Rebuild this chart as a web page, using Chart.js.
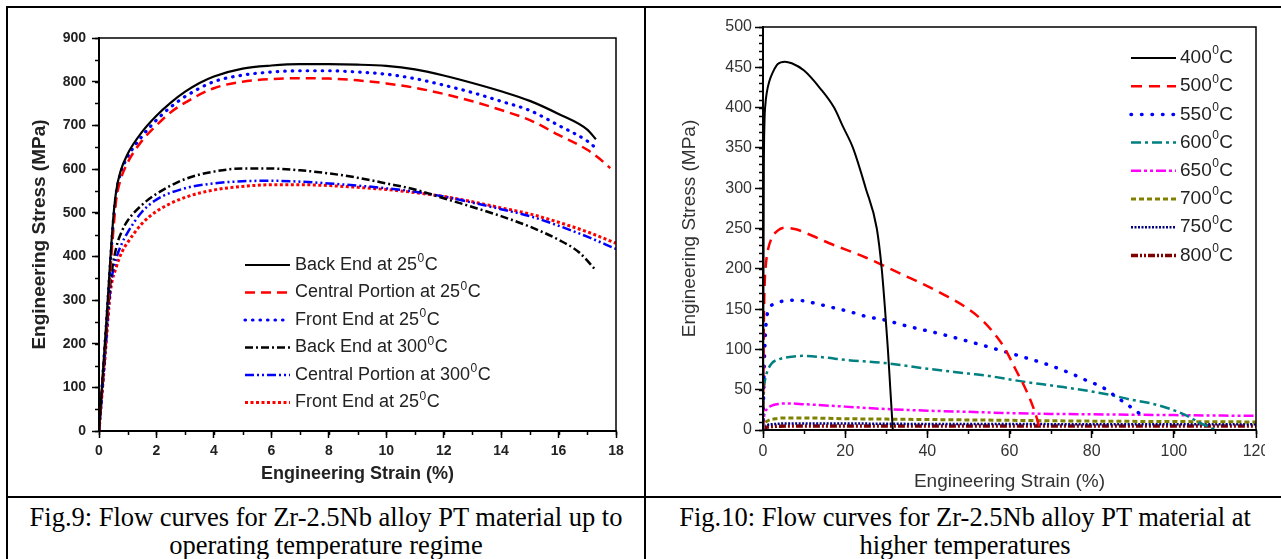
<!DOCTYPE html>
<html>
<head>
<meta charset="utf-8">
<script src="https://cdn.jsdelivr.net/npm/chart.js@4.4.0/dist/chart.umd.min.js"></script>
<style>
  html, body { margin: 0; padding: 0; background: #fff; }
  body { width: 1281px; height: 559px; overflow: hidden; position: relative; }
  canvas { position: absolute; top: 0; }
  #fig9 { left: 0; }
  #fig10 { left: 646px; }
  .rule { position: absolute; background: #000; }
  .cap { position: absolute; top: 503px; font-family: "Liberation Serif", "Times New Roman", serif;
         font-size: 26.5px; line-height: 28px; text-align: center; color: #000; white-space: nowrap; }
</style>
</head>
<body>
<canvas id="fig9" width="645" height="497"></canvas>
<canvas id="fig10" width="619" height="497"></canvas>
<div class="rule" style="left:6px;top:6px;width:1281px;height:2px"></div>
<div class="rule" style="left:6px;top:6px;width:2px;height:559px"></div>
<div class="rule" style="left:644px;top:6px;width:2px;height:559px"></div>
<div class="rule" style="left:6px;top:496px;width:1281px;height:2px"></div>
<div class="cap" style="left:8px;width:636px">Fig.9: Flow curves for Zr-2.5Nb alloy PT material up to<br>operating temperature regime</div>
<div class="cap" style="left:646px;width:638px">Fig.10: Flow curves for Zr-2.5Nb alloy PT material at<br>higher temperatures</div>

<script>
// ---- Fig.9 data (strain %, stress MPa) ----
const backEnd25X  = [0, 0.25, 0.5, 0.6, 0.75, 1, 1.5, 2, 2.5, 3, 3.5, 4, 5, 6, 7, 8, 9, 10, 11, 12, 13, 14, 15, 16, 17, 17.3];
const backEnd25Y  = [0, 245, 490, 550, 595, 635, 685, 722, 752, 777, 797, 812, 830, 837, 840, 840, 839, 836, 828, 814, 797, 778, 756, 726, 690, 668];
const central25X  = [0, 0.25, 0.5, 0.6, 0.75, 1, 1.5, 2, 2.5, 3, 4, 5, 6, 7, 8, 9, 10, 11, 12, 13, 14, 15, 16, 17, 17.4, 17.8];
const central25Y  = [0, 230, 460, 530, 575, 615, 665, 700, 730, 752, 785, 800, 806, 808, 807, 803, 796, 786, 772, 755, 735, 712, 678, 644, 625, 602];
const front25X    = [0, 0.25, 0.5, 0.6, 0.75, 1, 1.5, 2, 2.5, 3, 4, 5, 6, 7, 8, 9, 10, 11, 12, 13, 14, 15, 16, 17, 17.35];
const front25Y    = [0, 240, 480, 545, 590, 628, 675, 712, 742, 766, 800, 815, 822, 825, 825, 822, 817, 807, 792, 775, 755, 734, 700, 664, 645];
const backEnd300X = [0, 0.2, 0.4, 0.6, 0.8, 1, 1.5, 2, 3, 4, 5, 6, 7, 8, 9, 10, 11, 12, 13, 14, 15, 16, 16.7, 17.3];
const backEnd300Y = [0, 170, 340, 420, 458, 482, 518, 543, 577, 594, 601, 601, 597, 590, 580, 567, 553, 533, 513, 492, 468, 438, 410, 368];
const central300X = [0, 0.2, 0.4, 0.6, 0.8, 1, 1.5, 2, 3, 4, 5, 6, 7, 8, 9, 10, 11, 12, 13, 14, 15, 16, 17, 18];
const central300Y = [0, 165, 330, 395, 430, 455, 502, 530, 556, 567, 572, 573, 571, 567, 562, 556, 548, 537, 523, 508, 492, 470, 445, 417];
const frontB25X   = [0, 0.2, 0.4, 0.6, 0.8, 1, 1.5, 2, 3, 4, 5, 6, 7, 8, 9, 10, 11, 12, 13, 14, 15, 16, 17, 18];
const frontB25Y   = [0, 160, 320, 375, 410, 432, 475, 503, 535, 552, 560, 564, 564, 562, 558, 553, 546, 537, 525, 511, 497, 478, 456, 430];

// ---- Fig.10 data ----
const t400X = [0, 0.2, 0.35, 0.6, 0.9, 1.5, 2.5, 3.6, 5.3, 7, 10, 13.9, 17.3, 19.5, 21.9, 25, 27.7, 28.9, 29.7, 30.4, 31, 31.6];
const t400Y = [0, 320, 380, 405, 418, 432, 445, 454, 457, 455, 446, 424, 400, 376, 350, 300, 250, 200, 150, 100, 50, 0];
const t500X = [0, 0.2, 0.4, 0.7, 1, 2, 3.5, 5.3, 8, 12, 16, 20, 25, 31, 36, 39, 44, 50, 54, 57, 59, 61.5, 64, 66, 67.5];
const t500Y = [0, 130, 180, 205, 218, 237, 247, 251, 249, 241, 232, 224, 214, 200, 188, 181, 168, 150, 133, 115, 100, 75, 50, 25, 0];
const t550X = [0, 0.2, 0.5, 0.8, 1.5, 3, 5, 8.3, 12, 16, 21, 25, 30, 35, 42.6, 50, 59, 65, 69.4, 75, 79.4, 82.3, 86.3, 88.8, 91.5, 92.5];
const t550Y = [0, 60, 110, 135, 150, 157, 160, 161, 158, 153, 147, 141, 136, 129, 120, 110, 97, 88, 81, 70, 60, 54, 40, 31, 21, 17];
const t600X = [0, 0.2, 0.5, 1, 2, 4, 7, 9.7, 15, 20, 29.7, 40, 50, 55, 63.4, 72, 79.8, 85, 89.3, 94.5, 99.2, 102.6, 106, 109, 110];
const t600Y = [0, 45, 62, 72, 82, 88, 91, 92, 90, 87, 83, 76, 70, 67, 60, 54, 48, 43, 38, 33, 26, 19, 10, 2.5, 0];
const t650X = [0, 0.3, 1, 2, 4, 6, 10, 20, 30, 40, 50, 60, 70, 80, 90, 100, 110, 120];
const t650Y = [0, 18, 26, 30, 32.5, 33, 32, 29, 26, 24, 22.5, 21, 20, 19.5, 19, 18.5, 18, 17.5];
const t700X = [0, 0.3, 1, 3, 6, 10, 20, 30, 40, 60, 80, 100, 120];
const t700Y = [0, 7, 11, 14, 15, 15, 14, 13.5, 13, 12, 11, 10.5, 10];
const t750X = [0, 0.3, 1, 3, 6, 20, 40, 60, 80, 100, 120];
const t750Y = [0, 4, 6, 7.5, 8, 8, 7.5, 7.5, 7, 7, 7];
const t800X = [0, 0.3, 1, 3, 10, 30, 60, 90, 120];
const t800Y = [0, 2, 3.5, 4.5, 5, 5, 5, 5, 5];

const pts = (xs, ys) => xs.map((x, i) => ({ x, y: ys[i] }));

function line(label, xs, ys, color, width, dash, cap) {
  return {
    label, data: pts(xs, ys), borderColor: color, borderWidth: width,
    borderDash: dash, borderCapStyle: cap || "butt", pointRadius: 0,
    fill: false, tension: 0.4, cubicInterpolationMode: "monotone"
  };
}

// minor ticks, closed frame and in-plot legend
const framePlugin = {
  id: "frame",
  afterDraw(chart, args, o) {
    const { ctx, chartArea: a, scales } = chart;
    const sx = scales.x, sy = scales.y;
    ctx.save();
    ctx.strokeStyle = o.color;
    ctx.lineWidth = o.tickWidth;
    ctx.beginPath();
    for (let v = sx.min; v <= sx.max + 1e-9; v += o.xMinor) {
      const p = Math.round(sx.getPixelForValue(v)) + 0.5;
      ctx.moveTo(p, a.bottom); ctx.lineTo(p, a.bottom + o.minorLen);
    }
    for (let v = sy.min; v <= sy.max + 1e-9; v += o.yMinor) {
      const p = Math.round(sy.getPixelForValue(v)) + 0.5;
      ctx.moveTo(a.left, p); ctx.lineTo(a.left - o.minorLen, p);
    }
    ctx.stroke();
    ctx.lineWidth = o.frameWidth;
    ctx.strokeRect(a.left, a.top, a.right - a.left, a.bottom - a.top);
    ctx.restore();

    const lg = o.legend;
    chart.data.datasets.forEach((ds, i) => {
      const y = lg.y + i * lg.gap;
      ctx.save();
      ctx.strokeStyle = ds.borderColor;
      ctx.lineWidth = ds.borderWidth;
      ctx.setLineDash(ds.borderDash || []);
      ctx.lineCap = ds.borderCapStyle || "butt";
      ctx.beginPath(); ctx.moveTo(lg.x, y); ctx.lineTo(lg.x + lg.len, y); ctx.stroke();
      ctx.restore();

      ctx.save();
      ctx.fillStyle = lg.color;
      ctx.textBaseline = "middle";
      ctx.textAlign = "left";
      const parts = ds.label.split("\u2070");
      let tx = lg.x + lg.len + lg.textGap;
      ctx.font = lg.font;
      ctx.fillText(parts[0], tx, y);
      tx += ctx.measureText(parts[0]).width;
      if (parts.length > 1) {
        ctx.font = lg.supFont;
        ctx.fillText("0", tx + 0.5, y - lg.supRise);
        tx += ctx.measureText("0").width + 1;
        ctx.font = lg.font;
        ctx.fillText(parts[1], tx, y);
      }
      ctx.restore();
    });
  }
};

function axes(cfg) {
  return {
    x: {
      type: "linear", min: cfg.xMin, max: cfg.xMax,
      afterFit: s => { s.height = cfg.xHeight; s.paddingLeft = 0; s.paddingRight = 0; },
      ticks: { stepSize: cfg.xStep, color: cfg.textColor, padding: cfg.xTickPad, maxRotation: 0,
               font: { family: cfg.family, size: cfg.tickSize, weight: cfg.weight } },
      grid: { drawOnChartArea: false, drawTicks: true, tickLength: cfg.majorLen, tickWidth: 1.5, tickColor: "#000" },
      border: { display: true, color: "#000", width: cfg.axisWidth },
      title: { display: true, text: "Engineering Strain (%)", color: cfg.textColor,
               padding: { top: 0, bottom: cfg.xTitlePad },
               font: { family: cfg.family, size: cfg.xTitleSize, weight: cfg.weight } }
    },
    y: {
      type: "linear", min: cfg.yMin, max: cfg.yMax,
      afterFit: s => { s.width = cfg.yWidth; s.paddingTop = 0; s.paddingBottom = 0; },
      ticks: { stepSize: cfg.yStep, color: cfg.textColor, padding: cfg.yTickPad,
               font: { family: cfg.family, size: cfg.tickSize, weight: cfg.weight } },
      grid: { drawOnChartArea: false, drawTicks: true, tickLength: cfg.majorLen, tickWidth: 1.5, tickColor: "#000" },
      border: { display: true, color: "#000", width: cfg.axisWidth },
      title: { display: true, text: "Engineering Stress (MPa)", color: cfg.textColor,
               padding: { top: cfg.yTitlePad, bottom: 0 },
               font: { family: cfg.family, size: cfg.yTitleSize, weight: cfg.weight } }
    }
  };
}

const fig9Sets = [
  line("Back End at 25\u2070C", backEnd25X, backEnd25Y, "#000000", 2.2, []),
  line("Central Portion at 25\u2070C", central25X, central25Y, "#ff0000", 2.5, [10, 6]),
  line("Front End at 25\u2070C", front25X, front25Y, "#0000ff", 3.2, [0.5, 7], "round"),
  line("Back End at 300\u2070C", backEnd300X, backEnd300Y, "#000000", 2.5, [8, 3, 2, 3]),
  line("Central Portion at 300\u2070C", central300X, central300Y, "#0000ff", 2.5, [9, 3, 2, 3, 2, 3]),
  line("Front End at 25\u2070C", frontB25X, frontB25Y, "#ff0000", 3, [3, 2.5])
];

const fig10Sets = [
  line("400\u2070C", t400X, t400Y, "#000000", 2, []),
  line("500\u2070C", t500X, t500Y, "#ff0000", 2.5, [11, 7]),
  line("550\u2070C", t550X, t550Y, "#0000ff", 3.5, [0.5, 10], "round"),
  line("600\u2070C", t600X, t600Y, "#008080", 2.5, [10, 4, 3, 4]),
  line("650\u2070C", t650X, t650Y, "#ff00ff", 2.5, [10, 3, 3, 3, 3, 3]),
  line("700\u2070C", t700X, t700Y, "#808000", 3, [5, 3]),
  line("750\u2070C", t750X, t750Y, "#000080", 2.5, [2, 1.5]),
  line("800\u2070C", t800X, t800Y, "#800000", 3.5, [7, 2, 2, 2, 2, 2])
];

Chart.defaults.font.family = "'Liberation Sans', Arial, sans-serif";

new Chart(document.getElementById("fig9"), {
  type: "line",
  data: { datasets: fig9Sets },
  plugins: [framePlugin],
  options: {
    responsive: false, animation: false, devicePixelRatio: 1,
    layout: { padding: { left: 0, right: 29, top: 38, bottom: 0 } },
    plugins: {
      legend: { display: false }, tooltip: { enabled: false },
      frame: { color: "#000", tickWidth: 1.5, minorLen: 4, xMinor: 1, yMinor: 50, frameWidth: 1.5,
               legend: { x: 245, y: 265, gap: 27.5, len: 45, textGap: 5, color: "#222",
                         font: "18px 'Liberation Sans', Arial, sans-serif",
                         supFont: "12px 'Liberation Sans', Arial, sans-serif", supRise: 6 } }
    },
    scales: axes({
      xMin: 0, xMax: 18, xStep: 2, yMin: 0, yMax: 900, yStep: 100,
      xHeight: 66, yWidth: 99, majorLen: 7, axisWidth: 2,
      family: "'Liberation Sans', Arial, sans-serif", weight: "bold", textColor: "#222",
      tickSize: 14, xTickPad: 5, yTickPad: 6,
      xTitleSize: 18, xTitlePad: 12, yTitleSize: 19, yTitlePad: 28
    })
  }
});

new Chart(document.getElementById("fig10"), {
  type: "line",
  data: { datasets: fig10Sets },
  plugins: [framePlugin],
  options: {
    responsive: false, animation: false, devicePixelRatio: 1,
    layout: { padding: { left: 0, right: 9, top: 27, bottom: 0 } },
    plugins: {
      legend: { display: false }, tooltip: { enabled: false },
      frame: { color: "#000", tickWidth: 1.5, minorLen: 4, xMinor: 10, yMinor: 10, frameWidth: 1.5,
               legend: { x: 485, y: 58, gap: 28.2, len: 45, textGap: 4, color: "#222",
                         font: "19px 'Liberation Sans', Arial, sans-serif",
                         supFont: "12px 'Liberation Sans', Arial, sans-serif", supRise: 7 } }
    },
    scales: axes({
      xMin: 0, xMax: 120, xStep: 20, yMin: 0, yMax: 500, yStep: 50,
      xHeight: 67, yWidth: 117, majorLen: 8, axisWidth: 2,
      family: "'Liberation Sans', Arial, sans-serif", weight: "normal", textColor: "#333",
      tickSize: 16, xTickPad: 4, yTickPad: 3,
      xTitleSize: 19, xTitlePad: 4, yTitleSize: 19, yTitlePad: 32
    })
  }
});
</script>
</body>
</html>
